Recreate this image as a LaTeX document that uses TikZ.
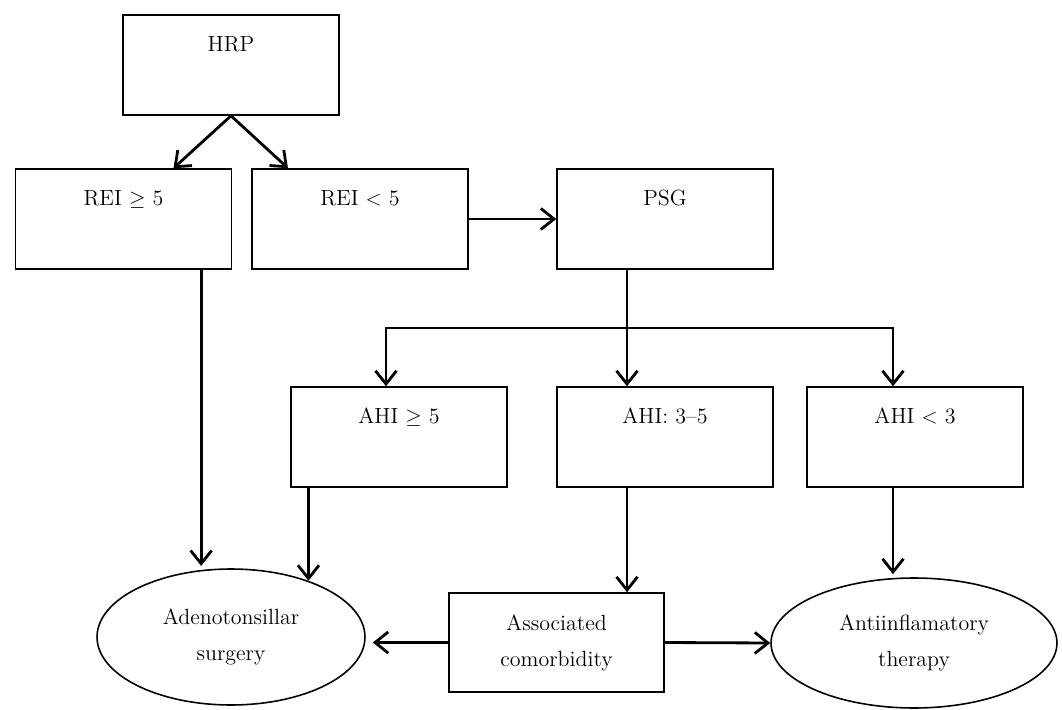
\documentclass[tikz,border=0pt]{standalone}
\usepackage{tikz}
\usetikzlibrary{arrows.meta, calc, positioning, shapes.geometric}

\begin{document}
\begin{tikzpicture}[x=0.02cm, y=-0.02cm, >={Straight Barb[length=7.5pt, width=12pt]},
    every node/.style={font=\fontsize{12.5}{20.5}\selectfont},
    stepbox/.style={draw, line width=0.9pt, minimum width=4.32cm, minimum height=2cm,
        inner sep=0pt, text height=0.32cm, text depth=0.88cm},
    endnode/.style={draw, ellipse, line width=0.9pt, inner sep=0pt, align=center},
    link/.style={->, line width=1.6pt}]
    \useasboundingbox (0,0) rectangle (1062,710);

    % Boxes
    \node[stepbox] (hrp) at (231,65) {HRP};
    \node[stepbox] (reihi) at (123.5,219) {REI $\geq$ 5};
    \node[stepbox] (reilo) at (360,219) {REI $<$ 5};
    \node[stepbox] (psg) at (665,219) {PSG};
    \node[stepbox] (ahihi) at (399,437) {AHI $\geq$ 5};
    \node[stepbox] (ahimid) at (665,437) {AHI: 3--5};
    \node[stepbox] (ahilo) at (915,437) {AHI $<$ 3};

    % Outcomes
    \node[endnode, minimum width=5.36cm, minimum height=2.72cm] (surg) at (231,637) {Adenotonsillar\\surgery};
    \node[draw, line width=0.9pt, align=center, minimum width=4.3cm, minimum height=1.98cm] (comorb) at (556.5,642.5) {Associated\\comorbidity};
    \node[endnode, minimum width=5.72cm, minimum height=2.6cm] (ther) at (914,643) {Antiinflamatory\\therapy};

    % Branch points
    \coordinate (bus) at (627,328);
    \coordinate (busL) at (386,328);
    \coordinate (busR) at (893,328);

    % Arrows
    \draw[link] (hrp.south) -- ($(reihi.north)+(50,0)$);
    \draw[link] (hrp.south) -- ($(reilo.north)+(-72,0)$);
    \draw[link] (reilo) -- (psg);
    \draw[link] (psg.south -| bus) -- (ahimid.north -| bus);
    \draw[link] (bus) -- (busL) -- (ahihi.north -| busL);
    \draw[link] (bus) -- (busR) -- (ahilo.north -| busR);
    \draw[link] (reihi.south -| surg.114) -- ([yshift=0.08cm]surg.114);
    \draw[link] (ahihi.south -| surg.36) -- (surg.36);
    \draw[link] (ahimid.south -| bus) -- (comorb.north -| bus);
    \draw[link] (ahilo.south -| busR) -- ([yshift=0.06cm]busR |- ther.north);
    \draw[link, shorten >=0.14cm] (comorb.west) -- (comorb.west -| surg.east);
    \draw[link] (comorb.east) -- (ther.west);
\end{tikzpicture}
\end{document}
